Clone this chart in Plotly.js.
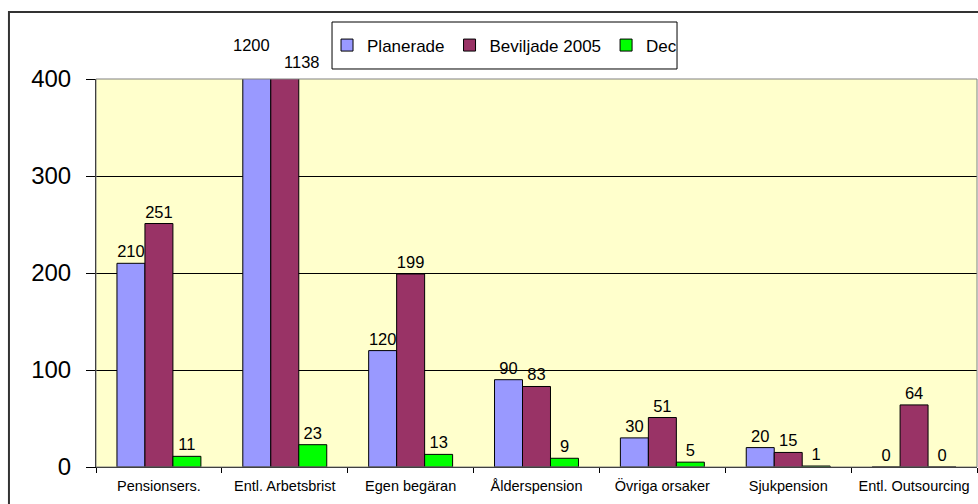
<!DOCTYPE html>
<html>
<head>
<meta charset="utf-8">
<script src="https://cdn.plot.ly/plotly-3.0.1.min.js"></script>
<style>
  html, body { margin: 0; padding: 0; background: #fff; }
  #chart { width: 978px; height: 504px; }
</style>
</head>
<body>
<div id="chart"></div>
<script>
// kategorier och serier
var kategorier = ["Pensionsers.", "Entl. Arbetsbrist", "Egen begäran", "Ålderspension", "Övriga orsaker", "Sjukpension", "Entl. Outsourcing"];
var planerade = [210, 1200, 120, 90, 30, 20, 0];
var beviljade = [251, 1138, 199, 83, 51, 15, 64];
var dec = [11, 23, 13, 9, 5, 1, 0];
var yMax = 400;
var yTicks = [0, 100, 200, 300, 400];

var font = "Arial, 'Liberation Sans', sans-serif";

// etikett bara om stapeln ryms i diagrammet
function etiketter(v) {
    return v.map(function (d) { return d <= yMax ? String(d) : ""; });
}

function serie(namn, y, farg) {
    return {
        x: kategorier,
        y: y,
        name: namn,
        type: "bar",
        text: etiketter(y),
        textposition: "outside",
        constraintext: "none",
        cliponaxis: true,
        textfont: {family: font, size: 16.5, color: "#000"},
        hoverinfo: "x+y+name",
        marker: {color: farg, line: {color: "#000", width: 1}}
    };
}

var data = [
    serie("Planerade", planerade, "#9999FF"),
    serie("Beviljade 2005", beviljade, "#993366"),
    serie("Dec", dec, "#00FF00")
];

// värden som går över skalan, placerade ovanför ramen
var annotations = [];
var forskj = [[-33, 34], [17, 17], [28, 17]];
[planerade, beviljade, dec].forEach(function (s, i) {
    s.forEach(function (v, j) {
        if (v > yMax) {
            annotations.push({
                x: kategorier[j], y: yMax, xref: "x", yref: "y",
                text: String(v), showarrow: false,
                xshift: forskj[i][0], yshift: forskj[i][1],
                yanchor: "middle",
                font: {family: font, size: 16.5, color: "#000"}
            });
        }
    });
});

var layout = {
    width: 978,
    height: 504,
    margin: {l: 96, r: 1, t: 79, b: 37, pad: 0},
    paper_bgcolor: "#fff",
    plot_bgcolor: "#FFFFCC",
    barmode: "group",
    bargap: 0.333,
    bargroupgap: 0,
    font: {family: font, color: "#000"},
    showlegend: true,
    legend: {
        orientation: "h",
        x: 0.4637, xanchor: "center",
        y: 1.0863, yanchor: "middle",
        bgcolor: "rgba(0,0,0,0)",
        borderwidth: 0,
        font: {family: font, size: 17, color: "#000"},
        itemwidth: 30
    },
    xaxis: {
        type: "category",
        tickson: "boundaries",
        ticks: "outside",
        ticklen: 5,
        tickcolor: "#000",
        ticklabelstandoff: 6,
        showline: true,
        linecolor: "#000",
        linewidth: 1,
        showgrid: false,
        tickfont: {family: font, size: 14.5, color: "#000"},
        fixedrange: true
    },
    yaxis: {
        range: [0, yMax],
        tickvals: yTicks,
        ticktext: yTicks.map(String),
        ticks: "outside",
        ticklen: 9,
        tickcolor: "#000",
        ticklabelstandoff: 10,
        showline: true,
        linecolor: "#000",
        linewidth: 1,
        showgrid: true,
        gridcolor: "#000",
        gridwidth: 1,
        zeroline: false,
        tickfont: {family: font, size: 24, color: "#000"},
        fixedrange: true
    },
    shapes: [
        // ram runt diagramytan
        {type: "rect", xref: "paper", yref: "paper", x0: 0, x1: 1, y0: 0, y1: 1,
         line: {color: "#808080", width: 1}, layer: "above"},
        // ram runt hela diagrammet
        {type: "rect", xref: "paper", yref: "paper", x0: -0.0988, x1: 1.05, y0: -0.2, y1: 1.1727,
         line: {color: "#333", width: 2}, layer: "below"},
        // förklaringsrutan
        {type: "rect", xref: "paper", yref: "paper", x0: 0.2679, x1: 0.6595, y0: 1.0258, y1: 1.1469,
         line: {color: "#000", width: 1}, fillcolor: "#fff", layer: "above"}
    ],
    annotations: annotations
};

var config = {displayModeBar: false, responsive: false};

Plotly.newPlot("chart", data, layout, config);
</script>
</body>
</html>
